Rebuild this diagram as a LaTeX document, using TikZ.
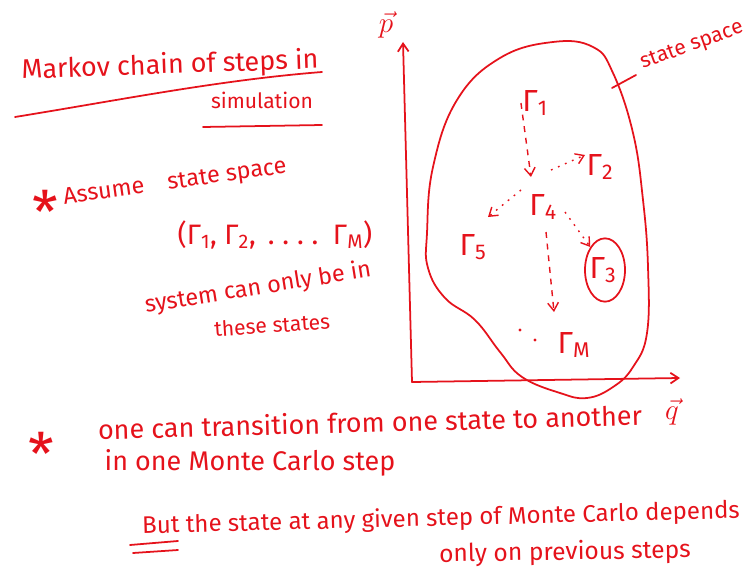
\documentclass[tikz,border=0pt]{standalone}
\usepackage{fontspec}
\setmainfont{Fira Sans}
\usetikzlibrary{arrows.meta,shapes.geometric}
\definecolor{cInk}{HTML}{E5121B}
\newcommand{\handsize}[1]{\fontsize{#1}{#1}\selectfont}

\begin{document}
\begin{tikzpicture}[x=0.3mm, y=-0.3mm,
  font=\handsize{21}, text=cInk,
  >={Straight Barb[length=2.4mm, width=3.2mm]},
  txt/.style={inner sep=0pt, anchor=center},
  st/.style={inner sep=1pt, font=\handsize{26}},
  ln/.style={draw=cInk, line width=1.5pt, line cap=round},
  ax/.style={ln, ->},
  hop/.style={->, draw=cInk, line width=1.2pt, dash pattern=on 5pt off 5pt},
  hopd/.style={->, draw=cInk, line width=1.2pt, dash pattern=on 1.5pt off 5pt}]
\useasboundingbox (0,0) rectangle (747,572);

% ---- heading ----
\node[txt, rotate=2, font=\handsize{23}] (title) at (170,66) {Markov chain of steps in};
\node[txt, font=\handsize{18}] (sim) at (262,100) {simulation};
\draw[ln] (15,117) .. controls (120,100) and (220,80) .. (322,72);
\draw[ln] (203,127) -- (322,125);

% ---- assumption ----
\node[txt, font=\handsize{50}, anchor=north] (star) at (45,190) {*};
\node[txt, rotate=8, font=\handsize{20}] (assume) at (175,183) {Assume\quad state space};
\node[txt, font=\handsize{24}] (tuple) at (275,235) {(Γ\textsubscript{1}, Γ\textsubscript{2}, \,.\;.\;.\;.\, Γ\textsubscript{M})};
\node[txt, rotate=9, font=\handsize{20}] (only) at (258,288) {system can only be in};
\node[txt, rotate=4, font=\handsize{18}] (these) at (272,325) {these states};

% ---- axes ----
\coordinate (o) at (412,382);
\coordinate (ptop) at (403,42);
\coordinate (qend) at (680,378);
\draw[ax] (o) -- (ptop);
\draw[ax] (o) -- (qend);
\node[txt, font=\handsize{26}] (plab) at (386,25) {$\vec{p}$};
\node[txt, font=\handsize{26}] (qlab) at (672,412) {$\vec{q}$};

% ---- state space ----
\draw[ln] plot[smooth cycle, tension=0.7] coordinates {(553,42) (593,47) (613,73)
  (633,133) (643,200) (648,267) (647,333) (633,367) (613,387) (587,398) (560,393)
  (522,377) (500,352) (475,320) (445,298) (428,268) (427,233) (433,167)
  (457,100) (500,58)};
\node[txt, rotate=20, font=\handsize{18}] (sslab) at (692,46) {state space};
\coordinate (ssA) at (612,88);
\coordinate (ssB) at (636,75);
\draw[ln] (ssA) -- (ssB);

% states
\node[st] (g1) at (535,103) {Γ\textsubscript{1}};
\node[st] (g2) at (600,167) {Γ\textsubscript{2}};
\node[st] (g4) at (543,207) {Γ\textsubscript{4}};
\node[st] (g5) at (473,247) {Γ\textsubscript{5}};
\node[st] (g3) at (603,270) {Γ\textsubscript{3}};
\node[ellipse, draw=cInk, line width=1.5pt, minimum width=12mm, minimum height=19mm] (c3) at (605,270) {};
\node[st] (gM) at (574,345) {Γ\textsubscript{M}};

\draw[hop] (g1.west) -- ([shift={(-12,-30)}]g4.center);
\draw[hopd] ([shift={(8,-37)}]g4.center) -- ([shift={(-15,-12)}]g2.center);
\draw[hopd] ([shift={(-22,-17)}]g4.center) -- ([shift={(15,-30)}]g5.center);
\draw[hopd] ([shift={(22,5)}]g4.center) -- (c3.north west);
\draw[hop] ([shift={(3,25)}]g4.center) -- ([shift={(-20,-33)}]gM.center);
\fill[cInk] (520,330) circle (1.4pt) (535,340) circle (1.4pt);

% ---- transitions ----
\node[txt, font=\handsize{50}, anchor=north] (star2) at (41,432) {*};
\node[txt, rotate=1.5, font=\handsize{23}] (l1) at (370,422) {one can transition from one state to another};
\node[txt, font=\handsize{23}] (l2) at (250,463) {in one Monte Carlo step};
\node[txt, rotate=1.5, font=\handsize{20.5}] (l3) at (441,519) {But the state at any given step of Monte Carlo depends};
\node[txt, rotate=1] (l4) at (565,553) {only on previous steps};
\draw[ln] (130,545) -- (178,541);
\draw[ln] (133,553) -- (178,550);
\end{tikzpicture}
\end{document}
